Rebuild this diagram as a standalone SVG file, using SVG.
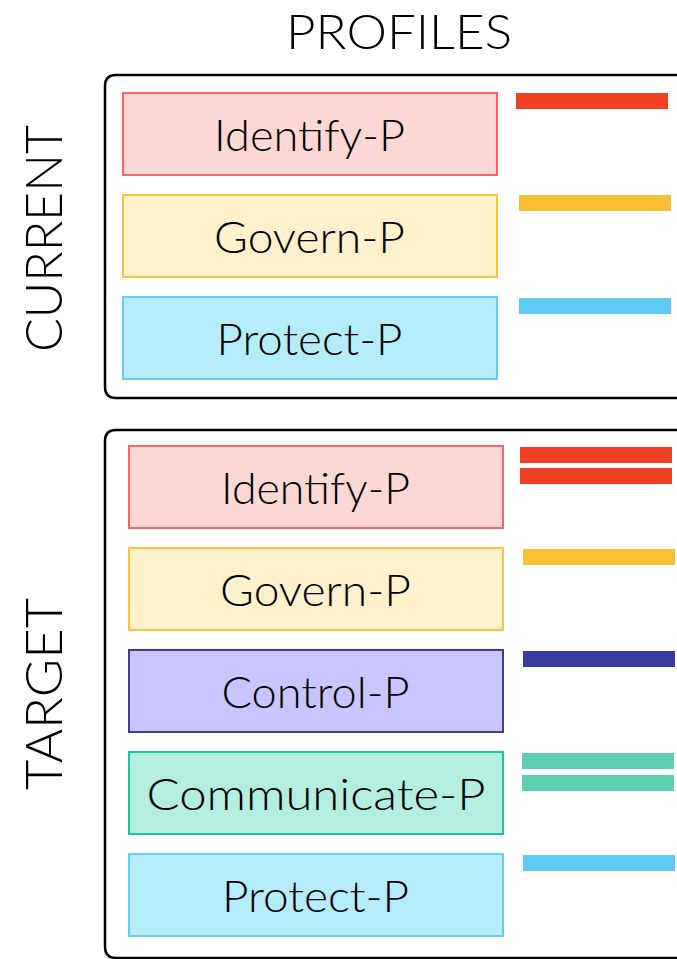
<svg xmlns="http://www.w3.org/2000/svg" width="677" height="959" viewBox="0 0 677 959">
<style>
.t{font-family:Lato,"Liberation Sans",Arial,sans-serif;font-weight:300;fill:#000;}
.lbl{font-size:44px;text-anchor:middle;}
.big{font-size:52px;text-anchor:middle;}
.ttl{font-size:48px;text-anchor:middle;}
.frame{fill:none;stroke:#000;stroke-width:2.5;}
.box{stroke-width:2;}
.id{fill:#fbd8d3;stroke:#ff6262;}
.gv{fill:#fff1cc;stroke:#fbc33a;}
.pr{fill:#b4ecfa;stroke:#64cef5;}
.ct{fill:#c8c5ff;stroke:#3c3c9e;}
.cm{fill:#b3eee0;stroke:#19c79e;}
.bred{fill:#f04124;}
.byel{fill:#f8c032;}
.bblu{fill:#5ecbf3;}
.bnav{fill:#383ba0;}
.btea{fill:#5ecfb1;}
</style>
<rect width="677" height="959" fill="#fff"/>
<text class="t ttl" x="399" y="49" textLength="226" lengthAdjust="spacingAndGlyphs">PROFILES</text>
<g id="current">
<path class="frame" d="M700,75 H116 Q105,75 105,86 V387 Q105,398 116,398 H700"/>
<text class="t big" transform="translate(62,238.5) rotate(-90)" x="0" y="0" textLength="227" lengthAdjust="spacingAndGlyphs">CURRENT</text>
</g>
<g id="target">
<path class="frame" d="M700,430 H116 Q105,430 105,441 V947 Q105,958 116,958 H700"/>
<text class="t big" transform="translate(62,694) rotate(-90)" x="0" y="0" textLength="192" lengthAdjust="spacingAndGlyphs">TARGET</text>
</g>
<g id="c-identify">
<rect class="box id" x="123" y="93" width="374" height="82"/>
<text class="t lbl" x="309.5" y="151" textLength="191" lengthAdjust="spacingAndGlyphs">Identify-P</text>
<rect class="bred" x="516" y="93" width="152" height="16"/>
</g>
<g id="c-govern">
<rect class="box gv" x="123" y="195" width="374" height="82"/>
<text class="t lbl" x="309.5" y="253" textLength="191" lengthAdjust="spacingAndGlyphs">Govern-P</text>
<rect class="byel" x="519" y="195" width="152" height="16"/>
</g>
<g id="c-protect">
<rect class="box pr" x="123" y="297" width="374" height="82"/>
<text class="t lbl" x="309.5" y="355" textLength="186" lengthAdjust="spacingAndGlyphs">Protect-P</text>
<rect class="bblu" x="519" y="298" width="152" height="16"/>
</g>
<g id="t-identify">
<rect class="box id" x="129" y="446" width="374" height="82"/>
<text class="t lbl" x="315.5" y="504" textLength="189" lengthAdjust="spacingAndGlyphs">Identify-P</text>
<rect class="bred" x="520" y="447" width="152" height="16"/>
<rect class="bred" x="520" y="468" width="152" height="16"/>
</g>
<g id="t-govern">
<rect class="box gv" x="129" y="548" width="374" height="82"/>
<text class="t lbl" x="315.5" y="606" textLength="191" lengthAdjust="spacingAndGlyphs">Govern-P</text>
<rect class="byel" x="523" y="549" width="152" height="16"/>
</g>
<g id="t-control">
<rect class="box ct" x="129" y="650" width="374" height="82"/>
<text class="t lbl" x="315.5" y="708" textLength="188" lengthAdjust="spacingAndGlyphs">Control-P</text>
<rect class="bnav" x="523" y="651" width="152" height="16"/>
</g>
<g id="t-communicate">
<rect class="box cm" x="129" y="752" width="374" height="82"/>
<text class="t lbl" x="316" y="810" textLength="339" lengthAdjust="spacingAndGlyphs">Communicate-P</text>
<rect class="btea" x="522" y="753" width="152" height="16"/>
<rect class="btea" x="522" y="775" width="152" height="16"/>
</g>
<g id="t-protect">
<rect class="box pr" x="129" y="854" width="374" height="82"/>
<text class="t lbl" x="315.5" y="912" textLength="187" lengthAdjust="spacingAndGlyphs">Protect-P</text>
<rect class="bblu" x="523" y="855" width="152" height="16"/>
</g>
<g id="connectors"></g>
</svg>
